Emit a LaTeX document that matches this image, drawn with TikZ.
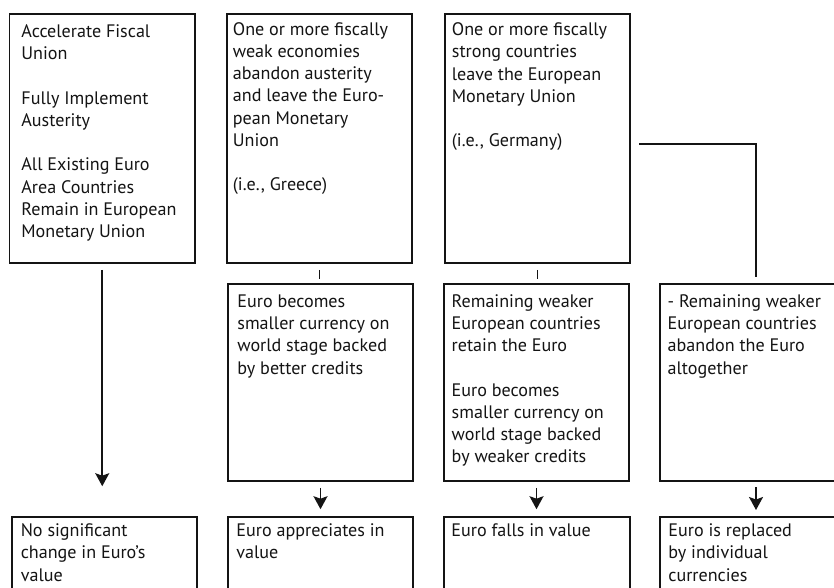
\documentclass[tikz,border=0pt]{standalone}
\usepackage{fontspec}
\setmainfont{PT Sans}
\usetikzlibrary{arrows.meta,fit}
\newcommand{\boxtext}[1]{\parbox[t]{185pt}{\fontsize{18.1}{22.2}\selectfont\raggedright #1}}
\begin{document}
\begin{tikzpicture}[x=1pt,y=-1pt,
  box/.style={draw=black!92, line width=1.6pt, inner sep=0pt},
  txt/.style={anchor=base west, inner sep=0pt, text=black!92},
  conn/.style={draw=black!92, line width=1.6pt},
  arr/.style={conn, -{Stealth[length=13pt,width=14pt,inset=2.5pt]}}]
\useasboundingbox (0,0) rectangle (834,587);
\clip (0,0) rectangle (834,587);
\fill[white] (0,0) rectangle (834,587);
% top row
\node[box, fit={(9.5,14) (195,263)}] (a1) {};
\node[box, fit={(227,14) (412,263)}] (a2) {};
\node[box, fit={(445,14) (630,263)}] (a3) {};
% middle row
\node[box, fit={(228,284) (413,481)}] (m2) {};
\node[box, fit={(444,284) (629,481)}] (m3) {};
\node[box, fit={(660,284) (845,481)}] (m4) {};
% bottom row
\node[box, fit={(12,517) (197,610)}] (b1) {};
\node[box, fit={(228,517) (413,610)}] (b2) {};
\node[box, fit={(444,517) (630,610)}] (b3) {};
\node[box, fit={(660,517) (845,610)}] (b4) {};
% texts
\node[txt] (a1t) at ([shift={(12.5,24.5)}]a1.north west) {\boxtext{Accelerate Fiscal\\ Union\\[22.2pt] Fully Implement\\ Austerity\\[22.2pt] All Existing Euro\\ Area Countries\\ Remain in European\\ Monetary Union}};
\node[txt] (a2t) at ([shift={(6.5,22)}]a2.north west) {\boxtext{One or more fiscally\\ weak economies\\ abandon austerity\\ and leave the Euro-\\ pean Monetary\\ Union\\[22.2pt] (i.e., Greece)}};
\node[txt] (a3t) at ([shift={(7.5,22.5)}]a3.north west) {\boxtext{One or more fiscally\\ strong countries\\ leave the European\\ Monetary Union\\[22.2pt] (i.e., Germany)}};
\node[txt] (m2t) at ([shift={(10,24.3)}]m2.north west) {\boxtext{Euro becomes\\ smaller currency on\\ world stage backed\\ by better credits}};
\node[txt] (m3t) at ([shift={(8.3,24.3)}]m3.north west) {\boxtext{Remaining weaker\\ European countries\\ retain the Euro\\[22.2pt] Euro becomes\\ smaller currency on\\ world stage backed\\ by weaker credits}};
\node[txt] (m4t) at ([shift={(8.3,24.3)}]m4.north west) {\boxtext{- Remaining weaker\\ European countries\\ abandon the Euro\\ altogether}};
\node[txt] (b1t) at ([shift={(9.4,20.5)}]b1.north west) {\boxtext{No significant\\ change in Euro’s\\ value}};
\node[txt] (b2t) at ([shift={(9,20.5)}]b2.north west) {\boxtext{Euro appreciates in\\ value}};
\node[txt] (b3t) at ([shift={(8,20.5)}]b3.north west) {\boxtext{Euro falls in value}};
\node[txt] (b4t) at ([shift={(9,20.5)}]b4.north west) {\boxtext{Euro is replaced\\ by individual\\ currencies}};
% connectors
\draw[arr] ([yshift=-6pt]a1.south) -- ([yshift=30pt]b1.north -| a1.south);
\draw[conn] ([yshift=-6pt]a2.south) -- ([yshift=-15pt]a2.south);
\draw[conn] ([yshift=-6pt]a3.south) -- ([yshift=-15pt]a3.south);
\draw[arr] ([yshift=-6pt]m2.south) -- ([yshift=7pt]b2.north);
\draw[arr] ([yshift=-6pt]m3.south) -- ([yshift=7pt]b3.north -| m3.south);
\coordinate (c1) at (639,144);
\coordinate (c2) at (756,144);
\coordinate (c3) at (756,277);
\draw[conn] (c1) -- (c2) -- (c3);
\coordinate (m4c) at (756,481);
\draw[arr] ([yshift=-6pt]m4c) -- ([yshift=-29pt]m4c);
\end{tikzpicture}
\end{document}
